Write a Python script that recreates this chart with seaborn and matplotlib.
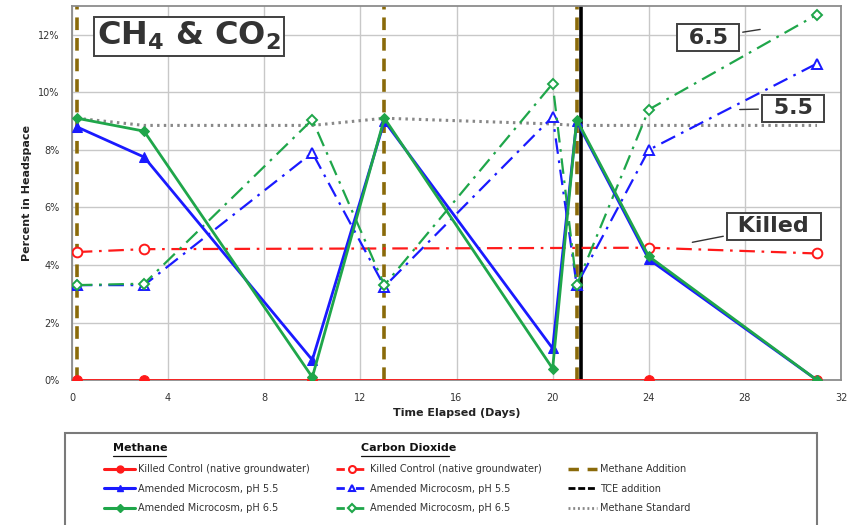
import numpy as np
import pandas as pd
import seaborn as sns
import matplotlib.pyplot as plt
from matplotlib.lines import Line2D
from matplotlib.patches import Rectangle

# --- data (percent in headspace) ---
days = [0.2, 3, 10, 13, 20, 21, 24, 31]
ch4_killed_days = [0.2, 3, 10, 24, 31]
ch4_killed = [0, 0, 0, 0, 0]
ch4_ph55 = [8.8, 7.75, 0.7, 9.0, 1.1, 9.0, 4.2, 0.0]
ch4_ph65 = [9.1, 8.65, 0.1, 9.1, 0.4, 9.05, 4.3, 0.0]
co2_ph55 = [3.3, 3.3, 7.9, 3.25, 9.15, 3.3, 8.0, 11.0]
co2_ph65 = [3.3, 3.35, 9.05, 3.3, 10.3, 3.3, 9.4, 12.7]
co2_killed_days = [0.2, 3, 24, 31]
co2_killed = [4.45, 4.55, 4.6, 4.4]
ch4_standard = [9.1, 8.85, 8.85, 9.1, 8.9, 8.85, 8.85, 8.85]
methane_additions = [0.2, 13, 21.0]
tce_addition = 21.2

RED = "#ff1a1a"
BLUE = "#1a1aff"
GREEN = "#1fa64a"
BROWN = "#8a6a0a"
DASHDOT = (7, 3, 1.2, 3)

sns.set_theme(style="whitegrid")
plt.rcParams["font.family"] = ["DejaVu Sans"]

fig = plt.figure(figsize=(8.54, 5.25), dpi=100)
ax = fig.add_axes([0.0843, 0.276, 0.9005, 0.7126])

# methane addition / TCE markers
for d in methane_additions:
    ax.axvline(d, color=BROWN, lw=2.6, ls=(0, (3.5, 2.2)), zorder=2)
ax.axvline(tce_addition, color="black", lw=2.6, zorder=2)

# methane standard
sns.lineplot(x=days, y=ch4_standard, ax=ax, color="#888888", lw=2.2,
             linestyle=(0, (0.8, 1.4)), zorder=3)

# carbon dioxide (dash-dot, open markers)
sns.lineplot(x=co2_killed_days, y=co2_killed, ax=ax, color=RED, lw=1.6,
             marker="o", markersize=7, mfc="white", mec=RED, mew=1.4, zorder=4)
ax.lines[-1].set_dashes(DASHDOT)
sns.lineplot(x=days, y=co2_ph55, ax=ax, color=BLUE, lw=1.6,
             marker="^", markersize=7, mfc="white", mec=BLUE, mew=1.4, zorder=4)
ax.lines[-1].set_dashes(DASHDOT)
sns.lineplot(x=days, y=co2_ph65, ax=ax, color=GREEN, lw=1.6,
             marker="D", markersize=5, mfc="white", mec=GREEN, mew=1.4, zorder=4)
ax.lines[-1].set_dashes(DASHDOT)

# methane (solid, filled markers)
sns.lineplot(x=ch4_killed_days, y=ch4_killed, ax=ax, color=RED, lw=2.0,
             marker="o", markersize=7, mec=RED, zorder=5)
sns.lineplot(x=days, y=ch4_ph55, ax=ax, color=BLUE, lw=2.0,
             marker="^", markersize=7, mec=BLUE, zorder=5)
sns.lineplot(x=days, y=ch4_ph65, ax=ax, color=GREEN, lw=2.0,
             marker="D", markersize=5.5, mec=GREEN, zorder=6)

ax.set_xlim(0, 32)
ax.set_ylim(0, 13)
ax.set_xticks(np.arange(0, 33, 4))
ax.set_yticks(np.arange(0, 13, 2))
ax.set_yticklabels([f"{v}%" for v in range(0, 13, 2)])
ax.tick_params(labelsize=7, colors="#333333", pad=3)
ax.grid(color="#c8c8c8", lw=1)
for s in ax.spines.values():
    s.set_color("#8c8c8c")
    s.set_linewidth(1.3)
ax.set_xlabel("Time Elapsed (Days)", fontsize=8, fontweight="bold", color="#222222", labelpad=4)
ax.set_ylabel("Percent in Headspace", fontsize=8, fontweight="bold", color="#222222", labelpad=4)

ax.text(0.152, 0.919, r"CH$_\mathbf{4}$ & CO$_\mathbf{2}$", transform=ax.transAxes,
        fontsize=23, fontweight="bold", color="#333333", ha="center", va="center",
        bbox=dict(boxstyle="square,pad=0.1", fc="white", ec="#404040", lw=1.4))

# callout labels
box = dict(boxstyle="square,pad=0.17", fc="white", ec="#404040", lw=1.4)
call_kw = dict(fontsize=16, fontweight="bold", color="#333333", ha="center", va="center",
               bbox=box, arrowprops=dict(arrowstyle="-", color="#333333", lw=1))
ax.annotate(" 6.5 ", xy=(28.75, 12.2), xytext=(26.47, 11.9), **call_kw)
ax.annotate(" 5.5 ", xy=(27.67, 9.4), xytext=(30.0, 9.44), **call_kw)
ax.annotate(" Killed ", xy=(25.7, 4.77), xytext=(29.2, 5.34), **call_kw)

# --- legend panel ---
fig.patches.append(Rectangle((65 / 854, -0.02), (817 - 65) / 854, (525 - 433) / 525 + 0.02,
                             transform=fig.transFigure, fc="white", ec="#7a7a7a", lw=1.5))
hdr_kw = dict(fontsize=8, fontweight="bold", color="#111111", ha="left", va="center")
for x0, txt, w in [(113, "Methane", 53), (361, "Carbon Dioxide", 88)]:
    fig.text(x0 / 854, 1 - 448 / 525, txt, **hdr_kw)
    fig.add_artist(Line2D([x0 / 854, (x0 + w) / 854], [1 - 456 / 525] * 2, color="#111111", lw=0.9))

leg_kw = dict(frameon=False, fontsize=7, labelspacing=1.0, handletextpad=0.3,
              borderpad=0, borderaxespad=0, loc="upper left")
col1 = [Line2D([], [], color=RED, lw=2.2, marker="o", ms=5),
        Line2D([], [], color=BLUE, lw=2.2, marker="^", ms=5),
        Line2D([], [], color=GREEN, lw=2.2, marker="D", ms=4)]
col2 = [Line2D([], [], color=RED, lw=2, marker="o", ms=5, mfc="white", mew=1.5, dashes=(3, 4)),
        Line2D([], [], color=BLUE, lw=2, marker="^", ms=5, mfc="white", mew=1.5, dashes=(3, 4)),
        Line2D([], [], color=GREEN, lw=2, marker="D", ms=4, mfc="white", mew=1.5, dashes=(3, 4))]
col3 = [Line2D([], [], color=BROWN, lw=2.5, dashes=(3, 2.5)),
        Line2D([], [], color="black", lw=2, dashes=(2.5, 1)),
        Line2D([], [], color="#888888", lw=2, dashes=(0.7, 1))]
labels12 = ["Killed Control (native groundwater)", "Amended Microcosm, pH 5.5", "Amended Microcosm, pH 6.5"]
labels3 = ["Methane Addition", "TCE addition", "Methane Standard"]
for handles, labels, x0, hl in [(col1, labels12, 104, 3.2), (col2, labels12, 336, 3.2), (col3, labels3, 568, 3.0)]:
    lg = fig.legend(handles, labels, bbox_to_anchor=(x0 / 854, 1 - 464 / 525), handlelength=hl, **leg_kw)
    for t in lg.get_texts():
        t.set_color("#333333")

fig.savefig("out.png", dpi=100)
